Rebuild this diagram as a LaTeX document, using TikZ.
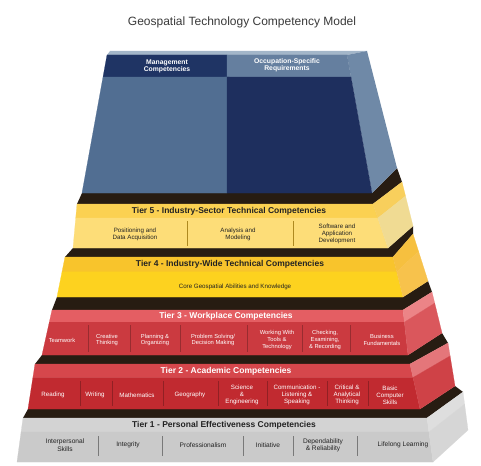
\documentclass[tikz,border=0pt]{standalone}
\usepackage{fontspec}
\setmainfont{Liberation Sans}
\usetikzlibrary{calc}

% palette
\definecolor{bandc}{HTML}{271C12}
\definecolor{navy}{HTML}{1E2F5E}
\definecolor{steel}{HTML}{516E92}
\definecolor{steelhd}{HTML}{657F9F}
\definecolor{navyhd}{HTML}{1F3464}
\definecolor{bside}{HTML}{6F89A7}
\definecolor{btop}{HTML}{A3B6C9}
\definecolor{yAt}{HTML}{FBD152}
\definecolor{yAb}{HTML}{FDDD78}
\definecolor{yAst}{HTML}{F8CF5C}
\definecolor{yAsb}{HTML}{F0DB93}
\definecolor{yBt}{HTML}{F8C42C}
\definecolor{yBb}{HTML}{FDD21F}
\definecolor{yBst}{HTML}{F6C03F}
\definecolor{yBsb}{HTML}{F7C24C}
\definecolor{rAt}{HTML}{E45E63}
\definecolor{rAb}{HTML}{CB3A40}
\definecolor{rAst}{HTML}{EC8487}
\definecolor{rAsb}{HTML}{DA575C}
\definecolor{rBt}{HTML}{D6474C}
\definecolor{rBb}{HTML}{C12A30}
\definecolor{rBst}{HTML}{E4767A}
\definecolor{rBsb}{HTML}{CF4247}
\definecolor{gt}{HTML}{D3D3D3}
\definecolor{gb}{HTML}{CACACA}
\definecolor{gst}{HTML}{DEDEDE}
\definecolor{gsb}{HTML}{D6D6D6}
\definecolor{inkc}{HTML}{222222}
\definecolor{titlec}{HTML}{3A3A3A}

\tikzset{
  lbl/.style={font=\fontsize{6.2}{7}\selectfont, align=center, inner sep=0pt},
  ttl/.style={font=\bfseries\fontsize{8.5}{10}\selectfont, inner sep=0pt},
  hdr/.style={font=\bfseries\fontsize{6.8}{7.2}\selectfont, align=center, inner sep=0pt, text=white},
  divider/.style={line width=0.5pt}
}

% one slab: front face in two rows and a two-tone side face
% #1 name, #2 row split, #3-#6 colours
\newcommand{\drawtier}[6]{%
  \coordinate (#1ml) at ($(#1fl)!#2!(#1bl)$);
  \coordinate (#1mr) at ($(#1fr)!#2!(#1br)$);
  \coordinate (#1ms) at ($(#1st)!#2!(#1sb)$);
  \filldraw[fill=#3, draw=#3, line width=0.2pt] (#1fl) -- (#1fr) -- (#1mr) -- (#1ml) -- cycle;
  \filldraw[fill=#4, draw=#4, line width=0.2pt] (#1ml) -- (#1mr) -- (#1br) -- (#1bl) -- cycle;
  \filldraw[fill=#5, draw=#5, line width=0.2pt] (#1fr) -- (#1st) -- (#1ms) -- (#1mr) -- cycle;
  \filldraw[fill=#6, draw=#6, line width=0.2pt] (#1mr) -- (#1ms) -- (#1sb) -- (#1br) -- cycle;
}
% dark top surface of slab #1 left visible below slab #2
\newcommand{\drawband}[2]{%
  \fill[bandc] (#1fl) -- (#1fr) -- (#1st) -- (#2sb) -- (#2br) -- (#2bl) -- cycle;
}

\begin{document}
\begin{tikzpicture}[x=1pt,y=-1pt]
\useasboundingbox (0,0) rectangle (481,465);
\fill[white] (0,0) rectangle (481,465);

% slab corners: fl/fr front top, bl/br front bottom, st/sb outer side edge
\coordinate (Pfl) at (23,418);  \coordinate (Pfr) at (427,418);
\coordinate (Pbr) at (433,462); \coordinate (Pbl) at (17,462);
\coordinate (Pst) at (463,392); \coordinate (Psb) at (468,430);

\coordinate (Afl) at (35,364);  \coordinate (Afr) at (410,364);
\coordinate (Abr) at (420,409); \coordinate (Abl) at (28,409);
\coordinate (Ast) at (448,343); \coordinate (Asb) at (455,386);

\coordinate (Wfl) at (52,310);  \coordinate (Wfr) at (403,310);
\coordinate (Wbr) at (408,355); \coordinate (Wbl) at (42,355);
\coordinate (Wst) at (432,292); \coordinate (Wsb) at (442,333);

\coordinate (Ifl) at (65,257);  \coordinate (Ifr) at (393,257);
\coordinate (Ibr) at (403,297); \coordinate (Ibl) at (57,297);
\coordinate (Ist) at (413,234); \coordinate (Isb) at (428,281);

\coordinate (Sfl) at (77,204);  \coordinate (Sfr) at (373,204);
\coordinate (Sbr) at (388,248); \coordinate (Sbl) at (73,248);
\coordinate (Sst) at (402,182); \coordinate (Ssb) at (413,226);

\coordinate (Tfl) at (107,55);  \coordinate (Tfr) at (347,55);
\coordinate (Tbr) at (372,193); \coordinate (Tbl) at (82,193);
\coordinate (Tst) at (367,51);  \coordinate (Tsb) at (397,168);
\coordinate (Tbk) at (110,51);

% slabs, bottom to top
\drawband{P}{A}
\drawtier{P}{0.32}{gt}{gb}{gst}{gsb}
\drawband{A}{W}
\drawtier{A}{0.3}{rBt}{rBb}{rBst}{rBsb}
\drawband{W}{I}
\drawtier{W}{0.27}{rAt}{rAb}{rAst}{rAsb}
\drawband{I}{S}
\drawtier{I}{0.37}{yBt}{yBb}{yBst}{yBsb}
\drawband{S}{T}
\drawtier{S}{0.32}{yAt}{yAb}{yAst}{yAsb}

% top block
\fill[btop] (Tfl) -- (Tfr) -- (Tst) -- (Tbk) -- cycle;
\fill[bside] (Tfr) -- (Tst) -- (Tsb) -- (Tbr) -- cycle;
\coordinate (Tml) at ($(Tfl)!0.16!(Tbl)$);
\coordinate (Tmr) at ($(Tfr)!0.16!(Tbr)$);
\coordinate (Tmt) at (227,55);
\coordinate (Tmm) at (227,77);
\coordinate (Tmb) at (227,193);
\filldraw[fill=navyhd, draw=navyhd, line width=0.2pt] (Tfl) -- (Tmt) -- (Tmm) -- (Tml) -- cycle;
\filldraw[fill=steelhd, draw=steelhd, line width=0.2pt] (Tmt) -- (Tfr) -- (Tmr) -- (Tmm) -- cycle;
\filldraw[fill=steel, draw=steel, line width=0.2pt] (Tml) -- (Tmm) -- (Tmb) -- (Tbl) -- cycle;
\filldraw[fill=navy, draw=navy, line width=0.2pt] (Tmm) -- (Tmr) -- (Tbr) -- (Tmb) -- cycle;

% title
\node[font=\fontsize{12}{14}\selectfont, text=titlec] (title) at (242,22) {Geospatial Technology Competency Model};

% top block headers
\node[hdr] (mgmt) at (167,66) {Management\\Competencies};
\node[hdr] (occ) at (287,65) {Occupation-Specific\\Requirements};

% Tier 5
\node[ttl, text=inkc] (t5) at (229,211) {Tier 5 - Industry-Sector Technical Competencies};
\node[lbl, text=inkc] (t5a) at (135,234) {Positioning and\\Data Acquisition};
\node[lbl, text=inkc] (t5b) at (238,234) {Analysis and\\Modeling};
\node[lbl, text=inkc] (t5c) at (337,234) {Software and\\Application\\Development};
\coordinate (d5a) at (187,221); \coordinate (d5b) at (293,221);
\foreach \d in {d5a,d5b} \draw[divider, draw=yBt!70!black] (\d) -- ++(0,25);

% Tier 4
\node[ttl, text=inkc] (t4) at (230,264.5) {Tier 4 - Industry-Wide Technical Competencies};
\node[lbl, text=inkc] (t4a) at (235,287) {Core Geospatial Abilities and Knowledge};

% Tier 3
\node[ttl, text=white] (t3) at (226,316.5) {Tier 3 - Workplace Competencies};
\begin{scope}[every node/.style={lbl, text=white, font=\fontsize{5.8}{6.6}\selectfont}]
\node (t3a) at (62,340) {Teamwork};
\node (t3b) at (107,340) {Creative\\Thinking};
\node (t3c) at (155,340) {Planning \&\\Organizing};
\node (t3d) at (213,340) {Problem Solving/\\Decision Making};
\node (t3e) at (277,340) {Working With\\Tools \&\\Technology};
\node (t3f) at (325,340) {Checking,\\Examining,\\\& Recording};
\node (t3g) at (382,340) {Business\\Fundamentals};
\end{scope}
\foreach \x in {88,130,180,247,302,350}
  \draw[divider, draw=rAb!75!black] (\x,325) -- (\x,352);

% Tier 2
\node[ttl, text=white] (t2) at (226,371) {Tier 2 - Academic Competencies};
\begin{scope}[every node/.style={lbl, text=white}]
\node (t2a) at (53,395) {Reading};
\node (t2b) at (95,395) {Writing};
\node (t2c) at (137,395) {Mathematics};
\node (t2d) at (190,395) {Geography};
\node (t2e) at (242,395) {Science\\\&\\Engineering};
\node (t2f) at (297,395) {Communication -\\Listening \&\\Speaking};
\node (t2g) at (347,395) {Critical \&\\Analytical\\Thinking};
\node (t2h) at (390,395) {Basic\\Computer\\Skills};
\end{scope}
\foreach \x in {80,112,163,218,267,327,368}
  \draw[divider, draw=rBb!75!black] (\x,381) -- (\x,406);

% Tier 1
\node[ttl, text=inkc] (t1) at (224,425) {Tier 1 - Personal Effectiveness Competencies};
\begin{scope}[every node/.style={lbl, text=inkc, font=\fontsize{6.6}{7.4}\selectfont}]
\node (t1a) at (65,445) {Interpersonal\\Skills};
\node (t1b) at (128,445) {Integrity};
\node (t1c) at (203,445) {Professionalism};
\node (t1d) at (268,445) {Initiative};
\node (t1e) at (323,445) {Dependability\\\& Reliability};
\node (t1f) at (403,445) {Lifelong Learning};
\end{scope}
\foreach \x in {98,162,243,293,357}
  \draw[divider, draw=gb!60!black] (\x,436) -- (\x,456);

\end{tikzpicture}
\end{document}
